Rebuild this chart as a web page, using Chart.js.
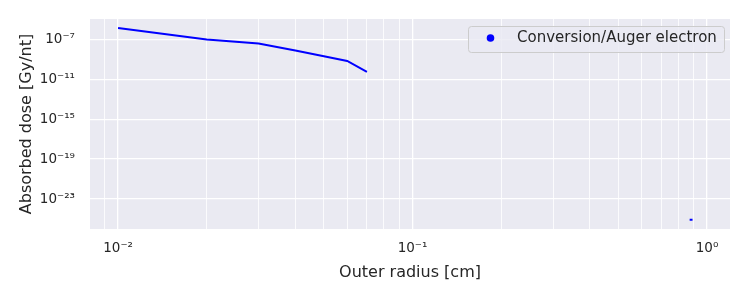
<!DOCTYPE html>
<html>
<head>
<meta charset="utf-8">
<script src="https://cdn.jsdelivr.net/npm/chart.js@4/dist/chart.umd.min.js"></script>
<style>
  html, body { margin: 0; padding: 0; background: #ffffff; }
  #wrap { width: 750px; height: 300px; }
</style>
</head>
<body>
<div id="wrap"><canvas id="c" width="750" height="300"></canvas></div>
<script>
// ---- data ----
const seriesLabel = "Conversion/Auger electron";
const radii = [0.01, 0.02, 0.03, 0.04, 0.05, 0.06, 0.07];
const dose  = [1.35e-6, 9.3e-8, 3.7e-8, 7.5e-9, 2.0e-9, 6.8e-10, 5.4e-11];
const tailRadii = [0.873, 0.893];
const tailDose  = [8.5e-26, 8.5e-26];

const xMajorTicks = [0.01, 0.1, 1];
const xMinorTicks = [0.008, 0.009, 0.02, 0.03, 0.04, 0.05, 0.06, 0.07, 0.08, 0.09,
                     0.2, 0.3, 0.4, 0.5, 0.6, 0.7, 0.8, 0.9];
const xTickLabels = ["10\u207B\u00B2", "10\u207B\u00B9", "10\u2070"];
const yMajorTicks = [1e-23, 1e-19, 1e-15, 1e-11, 1e-7];
const yTickLabels = ["10\u207B\u00B2\u00B3", "10\u207B\u00B9\u2079", "10\u207B\u00B9\u2075", "10\u207B\u00B9\u00B9", "10\u207B\u2077"];

const xTitle = "Outer radius [cm]";
const yTitle = "Absorbed dose [Gy/nt]";

// ---- build points (gap between the two pieces) ----
const points = radii.map((r, i) => ({x: r, y: dose[i]}));
points.push({x: 0.5, y: null});
tailRadii.forEach((r, i) => points.push({x: r, y: tailDose[i]}));

const FONT = "'DejaVu Sans', sans-serif";
const TEXT = '#262626';
const isMajor = (v, arr) => arr.some(m => Math.abs(Math.log10(v) - Math.log10(m)) < 1e-6);

const bgPlugin = {
  id: 'bg',
  beforeDraw(chart) {
    const {ctx, chartArea: a} = chart;
    ctx.save();
    ctx.fillStyle = '#ffffff';
    ctx.fillRect(0, 0, chart.width, chart.height);
    ctx.fillStyle = '#EAEAF2';
    ctx.fillRect(a.left, a.top, a.right - a.left, a.bottom - a.top);
    ctx.restore();
  }
};

const legendPlugin = {
  id: 'insideLegend',
  afterDatasetsDraw(chart) {
    const {ctx} = chart;
    const x0 = 468, y0 = 26, w = 256, h = 26, r = 3;
    ctx.save();
    ctx.beginPath();
    ctx.roundRect(x0 + 0.5, y0 + 0.5, w, h, r);
    ctx.fillStyle = 'rgba(234,234,242,0.8)';
    ctx.fill();
    ctx.strokeStyle = '#cccccc';
    ctx.lineWidth = 1;
    ctx.stroke();
    ctx.beginPath();
    ctx.arc(490.5, 38, 3.8, 0, Math.PI * 2);
    ctx.fillStyle = '#0000ff';
    ctx.fill();
    ctx.fillStyle = TEXT;
    ctx.font = "15px " + FONT;
    ctx.textBaseline = 'middle';
    ctx.textAlign = 'left';
    ctx.fillText(chart.data.datasets[0].label, 517, 38.5);
    ctx.restore();
  }
};

new Chart(document.getElementById('c'), {
  type: 'line',
  data: {
    datasets: [{
      label: seriesLabel,
      data: points,
      borderColor: '#0000ff',
      backgroundColor: '#0000ff',
      borderWidth: 2,
      pointRadius: 0,
      spanGaps: false,
      tension: 0
    }]
  },
  options: {
    responsive: false,
    animation: false,
    events: [],
    layout: { padding: { top: 19, right: 20, left: 0, bottom: 0 } },
    plugins: { legend: { display: false }, tooltip: { enabled: false } },
    scales: {
      x: {
        type: 'logarithmic',
        min: 0.00803,
        max: 1.197,
        afterBuildTicks(s) {
          s.ticks = xMajorTicks.concat(xMinorTicks).sort((a, b) => a - b).map(v => ({value: v}));
        },
        afterFit(s) { s.height = 71; s.paddingLeft = 0; s.paddingRight = 0; },
        border: { display: false },
        grid: {
          drawTicks: false,
          color: '#ffffff',
          lineWidth: ctx => isMajor(ctx.tick.value, xMajorTicks) ? 1.3 : 0.8
        },
        ticks: {
          autoSkip: false,
          maxRotation: 0,
          padding: 11,
          color: TEXT,
          font: { family: FONT, size: 13.5 },
          callback: (v) => {
            const i = xMajorTicks.findIndex(m => Math.abs(Math.log10(v) - Math.log10(m)) < 1e-6);
            return i >= 0 ? xTickLabels[i] : '';
          }
        },
        title: {
          display: true, text: xTitle, color: TEXT,
          font: { family: FONT, size: 16 },
          padding: { top: 0, bottom: 18 }
        }
      },
      y: {
        type: 'logarithmic',
        min: 1e-26,
        max: 1.07e-5,
        afterBuildTicks(s) {
          s.ticks = yMajorTicks.map(v => ({value: v}));
        },
        afterFit(s) { s.width = 90; s.paddingTop = 0; s.paddingBottom = 0; },
        border: { display: false },
        grid: { drawTicks: false, color: '#ffffff', lineWidth: 1.3 },
        ticks: {
          autoSkip: false,
          padding: 15,
          color: TEXT,
          font: { family: FONT, size: 13.5 },
          callback: (v) => {
            const i = yMajorTicks.findIndex(m => Math.abs(Math.log10(v) - Math.log10(m)) < 1e-6);
            return i >= 0 ? yTickLabels[i] : '';
          }
        },
        title: {
          display: true, text: yTitle, color: TEXT,
          font: { family: FONT, size: 16 },
          padding: { top: 17, bottom: 0 }
        }
      }
    }
  },
  plugins: [bgPlugin, legendPlugin]
});
</script>
</body>
</html>
